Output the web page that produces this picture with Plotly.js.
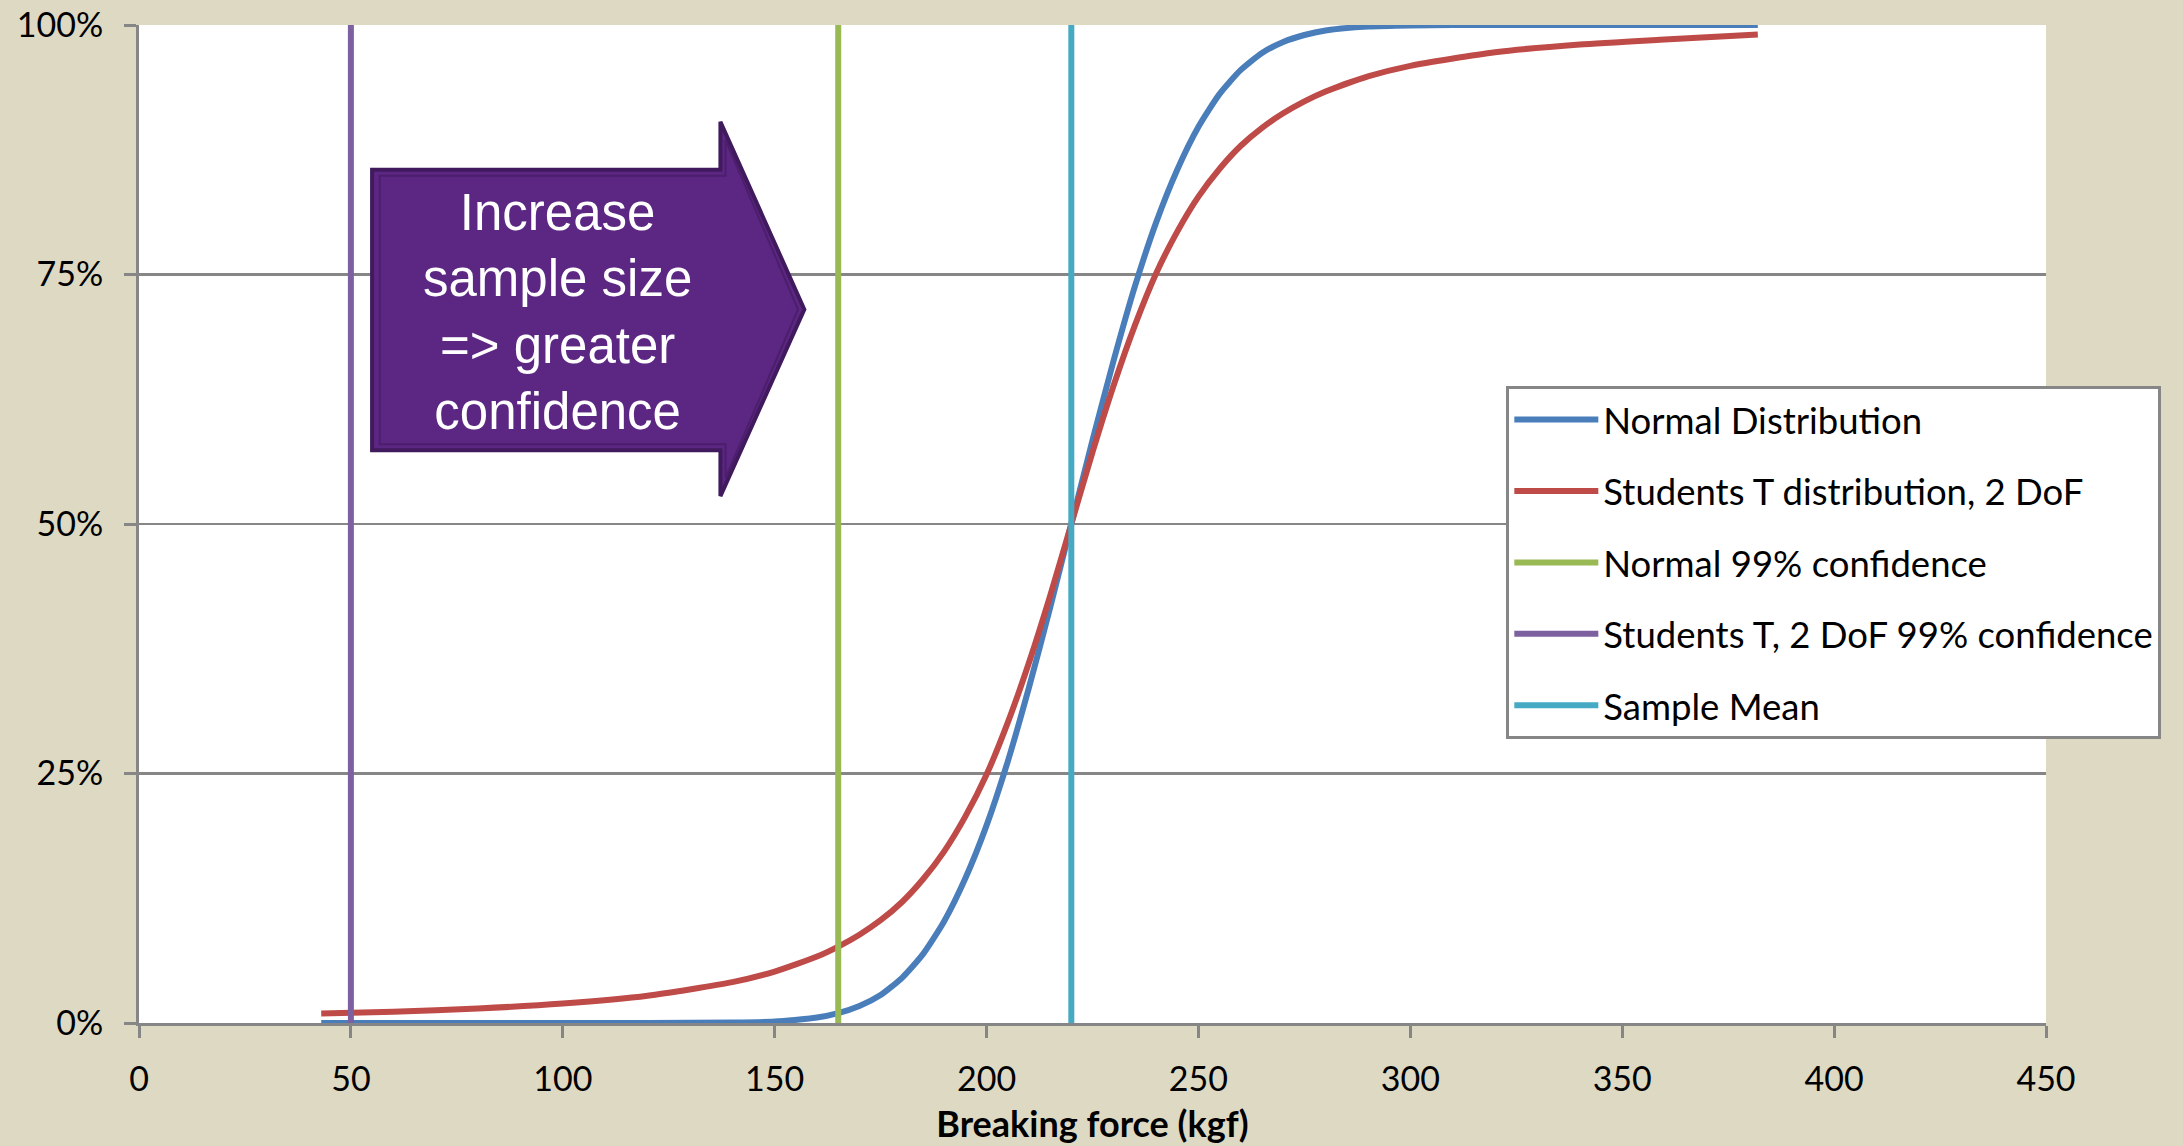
<!DOCTYPE html>
<html>
<head>
<meta charset="utf-8">
<script src="https://cdn.plot.ly/plotly-3.0.1.min.js"></script>
<style>html,body{margin:0;padding:0;background:#DDD9C3;}#chart{width:2183px;height:1146px;}</style>
</head>
<body>
<div id="chart"></div>
<script>
// Breaking force (kgf)
var xForce = [43, 60, 80, 100, 120, 140, 150, 160, 165, 170, 175, 180, 185, 190, 195, 200, 205, 210, 215, 220, 225, 230, 235, 240, 245, 250, 255, 260, 265, 270, 275, 280, 290, 300, 320, 340, 360, 382];
// Normal distribution cumulative probability
var yNormal = [0, 0, 0, 0, 0.00001, 0.0004, 0.0015, 0.0055, 0.0099, 0.017, 0.028, 0.045, 0.069, 0.102, 0.145, 0.198, 0.262, 0.336, 0.416, 0.5, 0.584, 0.664, 0.738, 0.802, 0.855, 0.898, 0.931, 0.955, 0.972, 0.983, 0.990, 0.9945, 0.9985, 0.9996, 1, 1, 1, 1];
// Students T distribution, 2 DoF cumulative probability
var yStudentT = [0.0094, 0.0112, 0.0145, 0.0195, 0.0273, 0.0409, 0.0515, 0.0666, 0.0766, 0.0885, 0.103, 0.121, 0.144, 0.172, 0.207, 0.249, 0.301, 0.361, 0.428, 0.5, 0.572, 0.639, 0.699, 0.751, 0.793, 0.828, 0.856, 0.879, 0.897, 0.9115, 0.9235, 0.9334, 0.9485, 0.9591, 0.9727, 0.9805, 0.9855, 0.9906];
// Vertical reference lines
var xNormal99 = [165, 165];
var xStudentT99 = [50, 50];
var xSampleMean = [220, 220];
var yVertical = [0, 1];
var seriesNames = ["Normal Distribution", "Students T distribution, 2 DoF", "Normal 99% confidence", "Students T, 2 DoF 99% confidence", "Sample Mean"];
var seriesColors = ["#4A7EBB", "#BE4B48", "#98B954", "#7D60A0", "#46AAC5"];
var yTicks = [0, 0.25, 0.5, 0.75, 1];
var arrowText = "Increase<br>sample size<br>=> greater<br>confidence";

var LW = 6;
var traces = [
  {x: xForce, y: yNormal, name: seriesNames[0], legendgroup: "a", mode: "lines", line: {color: seriesColors[0], width: LW, shape: "spline", smoothing: 0.6}},
  {x: xForce, y: yStudentT, name: seriesNames[1], legendgroup: "b", mode: "lines", line: {color: seriesColors[1], width: LW, shape: "spline", smoothing: 0.6}},
  {x: xNormal99, y: yVertical, name: seriesNames[2], legendgroup: "c", mode: "lines", line: {color: seriesColors[2], width: LW}},
  {x: xStudentT99, y: yVertical, name: seriesNames[3], legendgroup: "d", mode: "lines", line: {color: seriesColors[3], width: LW}},
  {x: xSampleMean, y: yVertical, name: seriesNames[4], legendgroup: "e", mode: "lines", line: {color: seriesColors[4], width: LW}}
];

var layout = {
  width: 2183, height: 1146,
  paper_bgcolor: "#DDD9C3",
  plot_bgcolor: "#FFFFFF",
  margin: {l: 139, r: 137, t: 25, b: 123, pad: 0},
  font: {family: "Lato, 'Noto Sans', sans-serif", size: 34, color: "#000000"},
  showlegend: true,
  legend: {
    x: 0.717, y: 0.638, xanchor: "left", yanchor: "top",
    bgcolor: "#FFFFFF", bordercolor: "#868686", borderwidth: 3,
    font: {family: "Lato, 'Noto Sans', sans-serif", size: 36.5, color: "#000000"},
    traceorder: "grouped", tracegroupgap: 21, itemwidth: 84
  },
  xaxis: {
    range: [0, 450], tick0: 0, dtick: 50,
    ticks: "outside", ticklen: 12, tickwidth: 3, tickcolor: "#868686",
    showline: true, linecolor: "#868686", linewidth: 3,
    showgrid: false, zeroline: false,
    tickfont: {size: 34, color: "#000000"},
    ticklabelstandoff: 12,
    title: {text: "<b>Breaking force (kgf)</b>", font: {size: 36, color: "#000000"}, standoff: 16}
  },
  yaxis: {
    range: [0, 1], tickvals: yTicks, tickformat: ".0%",
    ticks: "outside", ticklen: 12, tickwidth: 3, tickcolor: "#868686",
    showline: true, linecolor: "#868686", linewidth: 3,
    showgrid: true, gridcolor: "#868686", gridwidth: 2.5, zeroline: false,
    tickfont: {size: 34, color: "#000000"},
    ticklabelstandoff: 14
  },
  shapes: [
    {type: "path", xref: "x", yref: "y", layer: "above",
     path: "M55,0.855 L137.2,0.855 L137.2,0.903 L157,0.715 L137.2,0.528 L137.2,0.574 L55,0.574 Z",
     fillcolor: "#5C2683", line: {color: "#411A5D", width: 4}},
    {type: "path", xref: "x", yref: "y", layer: "above",
     path: "M56.8,0.849 L138.4,0.849 L138.4,0.885 L155.5,0.715 L138.4,0.546 L138.4,0.580 L56.8,0.580 Z",
     fillcolor: "rgba(0,0,0,0)", line: {color: "#4B1F6C", width: 2}}
  ],
  annotations: [
    {xref: "x", yref: "y", x: 98.7, y: 0.712, text: arrowText, showarrow: false,
     font: {family: "'Liberation Sans', Arial, sans-serif", size: 51, color: "#FFFFFF"}, align: "center"}
  ]
};

Plotly.newPlot("chart", traces, layout, {displayModeBar: false, staticPlot: true});
</script>
</body>
</html>
